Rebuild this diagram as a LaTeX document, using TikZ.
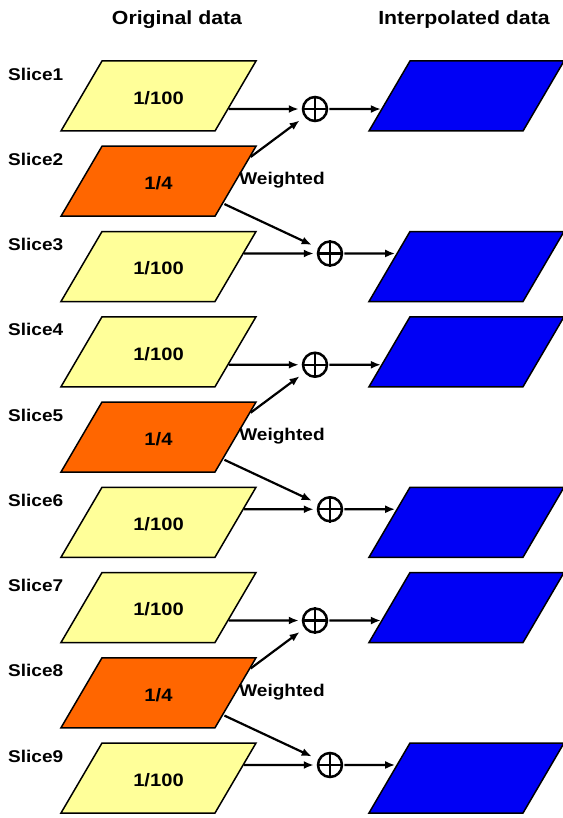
\documentclass[tikz,border=0pt]{standalone}
\usepackage{fontspec}
\setmainfont[FakeStretch=1.12]{Liberation Sans}
\usetikzlibrary{arrows.meta,calc}
\definecolor{pale}{RGB}{255,255,153}
\definecolor{orng}{RGB}{255,102,0}
\definecolor{blu}{RGB}{0,0,245}
\newcommand{\pgram}[5]{%
  \coordinate (#1bl) at (#2-97.5,#3+35);
  \coordinate (#1tl) at (#2-56.5,#3-35);
  \coordinate (#1tr) at (#2+97.5,#3-35);
  \coordinate (#1br) at (#2+56.5,#3+35);
  \filldraw[fill=#4, draw=black, line width=1.5pt, line join=miter] (#1bl) -- (#1tl) -- (#1tr) -- (#1br) -- cycle;
  \node[num] (#1) at (#2,#3+2) {#5};
}
\begin{document}
\begin{tikzpicture}[x=1pt,y=-1pt,
  num/.style={font=\bfseries\fontsize{18}{20}\selectfont, inner sep=0pt},
  lab/.style={font=\bfseries\fontsize{17}{20}\selectfont, inner sep=0pt},
  ttl/.style={font=\bfseries\fontsize{19}{22}\selectfont, inner sep=0pt},
  plus/.style={circle, draw=black, line width=2.5pt, minimum size=24pt, inner sep=0pt},
  arr/.style={line width=2.2pt, -{Latex[length=10pt,width=8pt]}}]
\fill[white] (0,0) rectangle (562,818);
\useasboundingbox (0,0) rectangle (562,818);
\node[ttl] (t1) at (177,20) {Original data};
\node[ttl] (t2) at (464,20) {Interpolated data};
\foreach \g in {0,1,2} {
  \pgfmathsetmacro{\ya}{96+255.75*\g}
  \pgfmathsetmacro{\yb}{\ya+85.25}
  \pgfmathsetmacro{\yc}{\ya+170.5}
  \pgfmathtruncatemacro{\a}{3*\g+1}
  \pgfmathtruncatemacro{\b}{3*\g+2}
  \pgfmathtruncatemacro{\c}{3*\g+3}
  \pgram{s\a}{158.5}{\ya}{pale}{1/100}
  \pgram{s\b}{158.5}{\yb}{orng}{1/4}
  \pgram{s\c}{158.5}{\yc}{pale}{1/100}
  \node[lab, anchor=west] (l\a) at (8,\ya-22) {Slice\a};
  \node[lab, anchor=west] (l\b) at (8,\yb-22) {Slice\b};
  \node[lab, anchor=west] (l\c) at (8,\yc-22) {Slice\c};
  \pgram{o\a}{466.5}{\ya}{blu}{}
  \pgram{o\c}{466.5}{\yc}{blu}{}
  \node[plus] (ca\g) at (315,\ya+13) {};
  \node[plus] (cb\g) at (330,\yc-13) {};
  \draw[line width=2.2pt] (ca\g.north) -- (ca\g.south) (ca\g.west) -- (ca\g.east);
  \draw[line width=2.2pt] (cb\g.north) -- (cb\g.south) (cb\g.west) -- (cb\g.east);
  \node[lab] (w\g) at (282,\yb-1) {Weighted};
  \coordinate (pa\g) at ($(s\a br)!0.314!(s\a tr)$);
  \coordinate (pc\g) at ($(s\c br)!0.686!(s\c tr)$);
  \coordinate (pu\g) at ($(s\b br)!0.83!(s\b tr)$);
  \coordinate (pd\g) at ($(s\b br)!0.186!(s\b tr)$);
  \coordinate (qa\g) at ($(o\a bl)!0.314!(o\a tl)$);
  \coordinate (qc\g) at ($(o\c bl)!0.686!(o\c tl)$);
  \draw[arr, shorten <=1pt, shorten >=3pt] (pa\g) -- (ca\g);
  \draw[arr, shorten <=2pt, shorten >=6pt] (pu\g) -- (ca\g);
  \draw[arr, shorten <=1pt, shorten >=3pt] (pc\g) -- (cb\g);
  \draw[arr, shorten <=2pt, shorten >=7pt] (pd\g) -- (cb\g);
  \draw[arr, shorten <=1pt, shorten >=1pt] (ca\g) -- (qa\g);
  \draw[arr, shorten <=1pt, shorten >=2pt] (cb\g) -- (qc\g);
}
\end{tikzpicture}
\end{document}
